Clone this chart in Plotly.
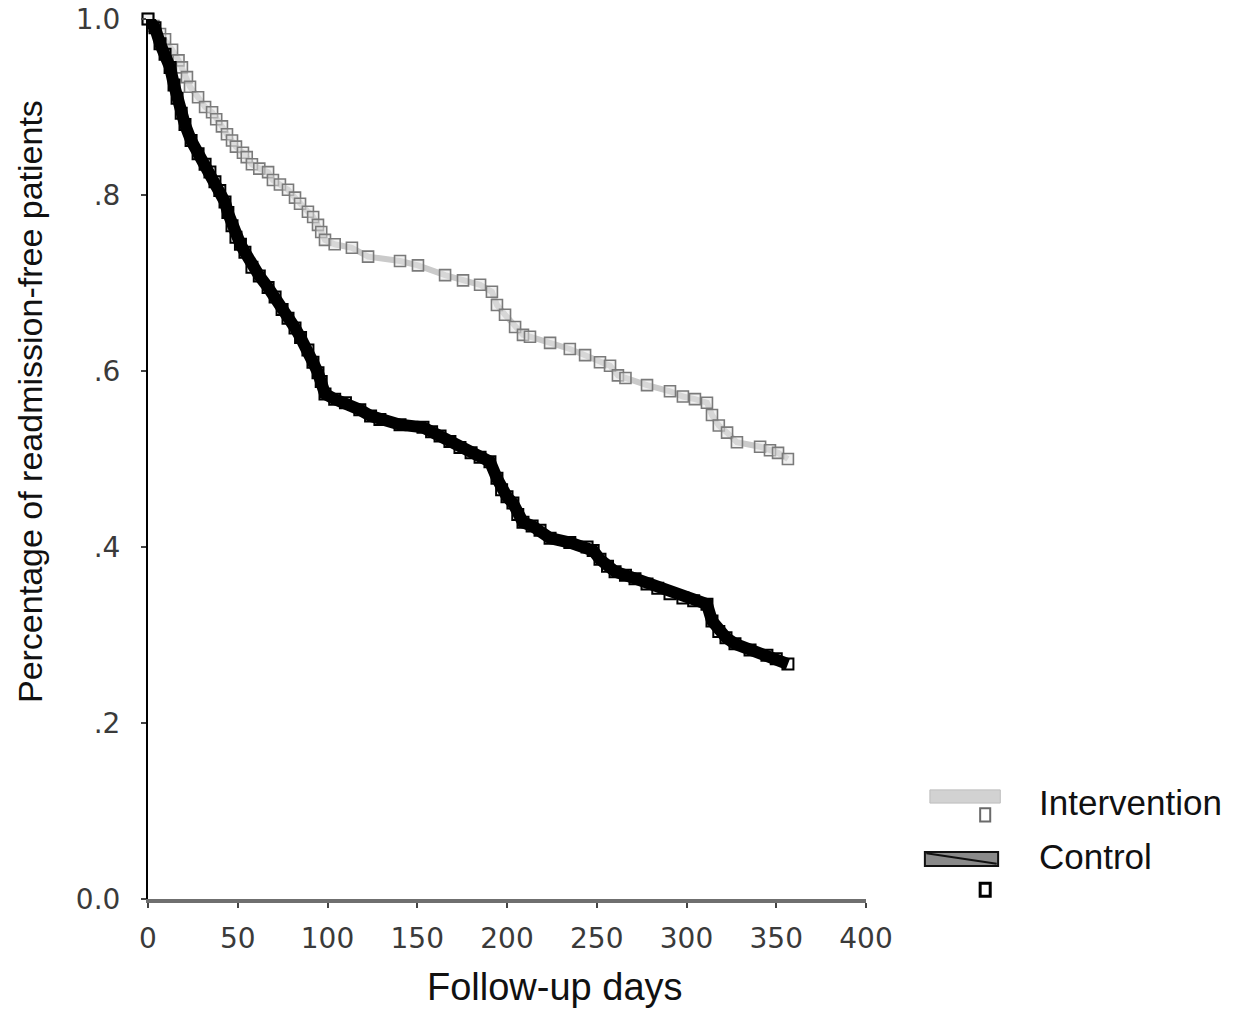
import plotly.graph_objects as go

# Follow-up days and readmission-free proportion
int_days = [0, 3, 6.7, 9.5, 13.4, 17, 18.9, 21.7, 23.4, 27.9, 31.8, 35.7, 38, 41.2, 44, 46.8, 49,
            52.9, 55, 57.9, 62, 66.9, 69.6, 73.5, 78, 81.9, 84.7, 89.1, 92, 94.7, 96.5, 98.6, 104,
            113.6, 122.6, 140.4, 150.4, 165.5, 175.5, 185, 191.6, 194.4, 198.9, 204.5, 208.9,
            212.8, 224, 235, 243.5, 251.8, 257.4, 261.8, 266, 278, 290.8, 298, 304.7, 311.4,
            314.2, 318, 322.6, 328.1, 341, 346.5, 351, 356.5]
int_surv = [1.0, 0.992, 0.983, 0.977, 0.965, 0.953, 0.945, 0.934, 0.923, 0.911, 0.900, 0.894,
            0.886, 0.878, 0.869, 0.862, 0.855, 0.848, 0.843, 0.835, 0.830, 0.826, 0.817, 0.812,
            0.806, 0.797, 0.790, 0.781, 0.775, 0.766, 0.758, 0.749, 0.744, 0.740, 0.730, 0.725,
            0.720, 0.709, 0.703, 0.698, 0.690, 0.675, 0.664, 0.650, 0.641, 0.639, 0.632, 0.625,
            0.618, 0.610, 0.606, 0.595, 0.592, 0.584, 0.577, 0.571, 0.568, 0.564, 0.550, 0.538,
            0.530, 0.519, 0.514, 0.510, 0.507, 0.500]

ctl_days = [0, 3.9, 6.7, 9.5, 12.3, 14.5, 16.2, 18.5, 20.6, 24, 27.9, 31.8, 34.5, 37.3, 40, 42.9,
            44.5, 46.8, 49, 51.5, 54, 57.9, 62, 66.9, 70.8, 74.7, 78, 81.9, 85, 89.1, 91.9, 94.7,
            96.5, 98.6, 104, 110, 118, 124, 129.2, 140.4, 153.2, 158, 162.7, 168.2, 173.8, 180,
            185, 190.5, 194.4, 197, 200, 203.3, 206, 208.9, 214, 218.4, 224, 235, 244.6, 248,
            251.8, 256, 260.2, 266, 271.3, 278, 284, 290.8, 298, 304, 311.4, 314.2, 318, 322,
            327, 335.4, 344.8, 350, 356.5]
ctl_surv = [1.0, 0.990, 0.972, 0.960, 0.945, 0.925, 0.910, 0.893, 0.880, 0.862, 0.847, 0.835,
            0.826, 0.815, 0.805, 0.792, 0.780, 0.765, 0.752, 0.744, 0.735, 0.718, 0.708, 0.695,
            0.684, 0.670, 0.660, 0.649, 0.638, 0.624, 0.610, 0.598, 0.588, 0.574, 0.568, 0.564,
            0.556, 0.549, 0.545, 0.539, 0.536, 0.531, 0.526, 0.520, 0.513, 0.507, 0.502, 0.497,
            0.478, 0.465, 0.457, 0.450, 0.437, 0.428, 0.424, 0.419, 0.410, 0.405, 0.400, 0.396,
            0.386, 0.378, 0.372, 0.368, 0.364, 0.358, 0.353, 0.347, 0.342, 0.339, 0.335, 0.316,
            0.304, 0.297, 0.290, 0.283, 0.277, 0.273, 0.267]

x_ticks = [0, 50, 100, 150, 200, 250, 300, 350, 400]
y_ticks = [0.0, 0.2, 0.4, 0.6, 0.8, 1.0]
y_tick_text = ["0.0", ".2", ".4", ".6", ".8", "1.0"]

fig = go.Figure()
fig.add_trace(go.Scatter(
    x=int_days, y=int_surv, mode="lines+markers", name="Intervention",
    line=dict(color="#cacaca", width=6),
    marker=dict(symbol="square", size=11, color="rgba(225,225,225,0.5)",
                line=dict(color="#7a7a7a", width=1.6)),
    cliponaxis=False))
fig.add_trace(go.Scatter(
    x=ctl_days, y=ctl_surv, mode="lines+markers", name="Control",
    line=dict(color="#000000", width=12),
    marker=dict(symbol="square-open", size=11, color="#000000", line=dict(width=2)),
    cliponaxis=False))

tickfont = dict(family="DejaVu Sans", size=28, color="#3a3a3a")
fig.update_xaxes(range=[0, 400], tickvals=x_ticks, ticktext=[str(v) for v in x_ticks],
                 showgrid=False, zeroline=False, showline=True, linecolor="#6f6f6f",
                 linewidth=4, ticks="outside", ticklen=5, tickcolor="#444", tickwidth=2,
                 tickfont=tickfont, automargin=False, ticklabelstandoff=6,
                 ticklabeloverflow="allow")
fig.update_yaxes(range=[0, 1], tickvals=y_ticks, ticktext=y_tick_text,
                 showgrid=False, zeroline=False, showline=True, linecolor="#000",
                 linewidth=2, ticks="outside", ticklen=5, tickcolor="#444", tickwidth=2,
                 tickfont=tickfont, automargin=False, ticklabelstandoff=15,
                 ticklabeloverflow="allow")

legfont = dict(family="Liberation Sans, Arial", size=35, color="#111")
annos = [
    dict(text="Follow-up days", x=0.567, y=-0.1, xref="paper", yref="paper",
         showarrow=False, font=dict(family="Liberation Sans, Arial", size=38, color="#111"),
         xanchor="center", yanchor="middle"),
    dict(text="Percentage of readmission-free patients", x=-0.164, y=0.565, xref="paper",
         yref="paper", showarrow=False, textangle=-90,
         font=dict(family="Liberation Sans, Arial", size=34, color="#111"),
         xanchor="center", yanchor="middle"),
    dict(text="Intervention", x=1.238, y=0.110, xref="paper", yref="paper", showarrow=False,
         font=legfont, xanchor="left", yanchor="middle"),
    dict(text="Control", x=1.238, y=0.048, xref="paper", yref="paper", showarrow=False,
         font=legfont, xanchor="left", yanchor="middle"),
]

shapes = [
    # Intervention legend swatch and marker
    dict(type="rect", xref="paper", yref="paper", x0=1.089, x1=1.187, y0=0.109, y1=0.124,
         fillcolor="#d2d2d2", line=dict(color="#bdbdbd", width=1)),
    dict(type="rect", xref="paper", yref="paper", x0=1.159, x1=1.173, y0=0.088, y1=0.103,
         fillcolor="white", line=dict(color="#6a6a6a", width=2)),
    # Control legend swatch and marker
    dict(type="rect", xref="paper", yref="paper", x0=1.082, x1=1.184, y0=0.0375, y1=0.0535,
         fillcolor="#8a8a8a", line=dict(color="#111", width=2)),
    dict(type="line", xref="paper", yref="paper", x0=1.084, x1=1.182, y0=0.052, y1=0.040,
         line=dict(color="#111", width=2)),
    dict(type="rect", xref="paper", yref="paper", x0=1.159, x1=1.173, y0=0.003, y1=0.018,
         fillcolor="white", line=dict(color="#000", width=3)),
]

fig.update_layout(
    width=1236, height=1012, template="none",
    paper_bgcolor="white", plot_bgcolor="white",
    margin=dict(l=148, r=370, t=19, b=113),
    showlegend=False, annotations=annos, shapes=shapes,
)

fig.write_html("out.html", config={"displayModeBar": False},
               post_script="document.body.style.margin='0px';")
